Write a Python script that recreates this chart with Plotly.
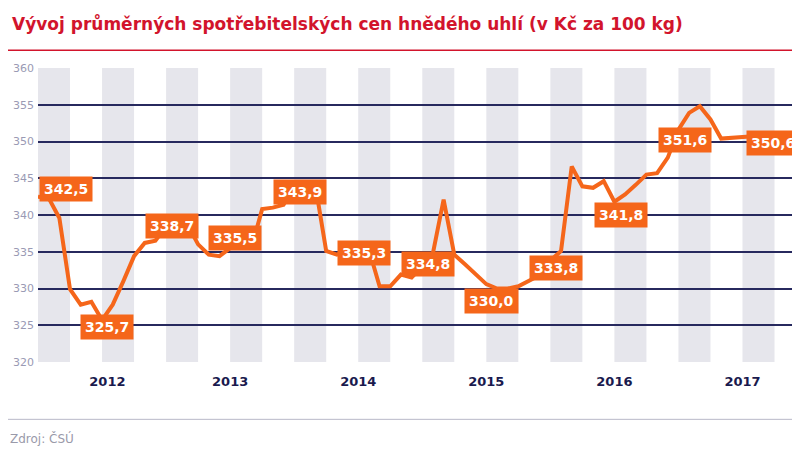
import plotly.graph_objects as go

values = [342.5, 342.3, 339.6, 329.9, 327.8, 328.2, 325.7, 327.8, 331.0, 334.4,
          336.2, 336.5, 338.5, 338.7, 338.7, 336.0, 334.6, 334.4, 335.5, 336.0,
          335.6, 340.8, 341.0, 341.4, 343.9, 343.9, 343.9, 335.1, 334.6, 335.3,
          335.3, 335.3, 330.3, 330.3, 331.9, 331.5, 333.0, 334.8, 342.1, 334.6,
          333.3, 331.9, 330.6, 330.0, 330.0, 330.3, 331.0, 331.8, 333.8, 335.1,
          346.6, 343.9, 343.7, 344.6, 341.8, 342.8, 344.1, 345.5, 345.7, 347.8,
          351.6, 353.9, 354.8, 353.0, 350.4, 350.5, 350.6, 350.7, 350.6, 350.6]
label_x = [2.6, 6.5, 12.6, 18.5, 24.5, 30.5, 36.5, 42.5, 48.5, 54.6, 60.6, 68.9]
label_y = [343.5, 324.8, 338.5, 336.9, 343.1, 334.8, 333.3, 328.3, 332.8, 340.0, 350.2, 349.8]
label_text = ["342,5", "325,7", "338,7", "335,5", "343,9", "335,3", "334,8", "330,0",
              "333,8", "341,8", "351,6", "350,6"]
years = ["2012", "2013", "2014", "2015", "2016", "2017"]
year_pos = [6.5, 18, 30, 42, 54, 66]

ORANGE = "#f5661a"
NAVY = "#27295e"
FONT = "DejaVu Sans"
fig = go.Figure()
fig.add_trace(go.Scatter(x=list(range(len(values))), y=values, mode="lines",
                         line=dict(color=ORANGE, width=4), hoverinfo="skip"))

shapes = []
for s in range(0, len(values), 6):
    shapes.append(dict(type="rect", xref="x", yref="y domain", x0=s, x1=s + 3, y0=0, y1=1,
                       fillcolor="#e6e6ec", line=dict(width=0), layer="below"))
shapes.append(dict(type="line", xref="paper", yref="paper", x0=-0.04, x1=1.02, y0=1.06, y1=1.06,
                   line=dict(color="#d2142c", width=1.5)))
shapes.append(dict(type="line", xref="paper", yref="paper", x0=-0.04, x1=1.02, y0=-0.195, y1=-0.195,
                   line=dict(color="#b8b8c8", width=1)))

ann = []
for x, y, t in zip(label_x, label_y, label_text):
    ann.append(dict(x=x, y=y, text="<b>" + t + "</b>", showarrow=False, bgcolor=ORANGE,
                    font=dict(color="white", size=14, family=FONT), borderpad=4))
ann.append(dict(xref="paper", yref="paper", x=-0.04, y=-0.26, xanchor="left", yanchor="middle",
                text="Zdroj: ČSÚ", showarrow=False, font=dict(color="#9a9aaa", size=12, family=FONT)))

fig.update_layout(
    width=800, height=449, margin=dict(l=30, r=10, t=60, b=95, autoexpand=False),
    paper_bgcolor="white", plot_bgcolor="white", showlegend=False,
    title=dict(text="<b>Vývoj průměrných spotřebitelských cen hnědého uhlí (v Kč za 100 kg)</b>",
               x=0.005, xanchor="left", y=0.965, yanchor="middle", automargin=False,
               font=dict(color="#d2142c", size=17, family=FONT)),
    xaxis=dict(range=[0, 71.2], tickvals=year_pos, ticktext=["<b>" + y + "</b>" for y in years],
               showgrid=False, zeroline=False, ticks="", ticklabelstandoff=10, automargin=False,
               tickfont=dict(color="#1a1a4e", size=13, family=FONT)),
    yaxis=dict(range=[320, 360], dtick=5, showgrid=True, gridcolor=NAVY, gridwidth=1.5,
               zeroline=False, ticks="", ticklabelstandoff=3, automargin=False,
               tickfont=dict(color="#9a9ab4", size=11, family=FONT)),
    shapes=shapes, annotations=ann,
)
fig.write_html("out.html")
